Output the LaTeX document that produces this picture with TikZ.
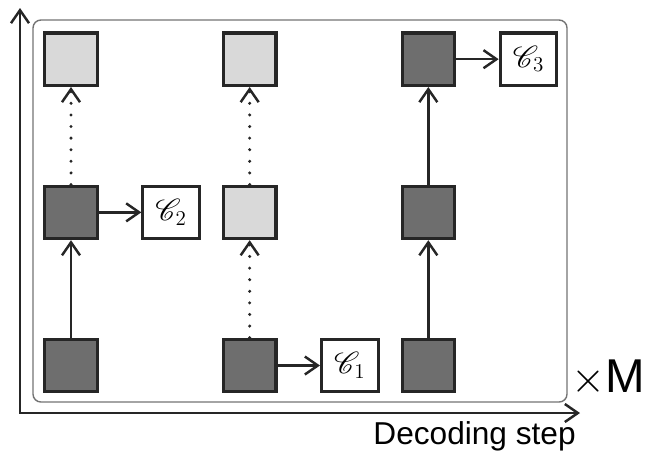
\documentclass[tikz,border=0pt]{standalone}
\usepackage{mathrsfs}
\usepackage{fontspec}
\newfontfamily\axisfont{Liberation Sans}
\usetikzlibrary{arrows.meta,positioning,calc}
\newcommand{\cword}[1]{$\mathscr{C}_{\mbox{\large #1}}$}

\begin{document}
\begin{tikzpicture}
[auto,node distance=1.95cm and 2.46cm,
>={Straight Barb[length=2.6mm,width=3.6mm,line width=1.4pt]},
edge/.style={black!85,line width=1.4pt},
dots/.style={black!85,line width=1.9pt,line cap=round,dash pattern=on 0pt off 6.6pt},
axis/.style={black!85,line width=1.3pt},
cell/.style={draw=black!85,line width=1.8pt,minimum size=1.05cm,inner sep=0pt},
dark/.style={cell,fill=black!57},
light/.style={cell,fill=black!15},
codebox/.style={cell,fill=white,minimum width=1.13cm,font=\LARGE},
frame/.style={draw=black!55,line width=.8pt,rounded corners=4.5pt}]
\useasboundingbox (0,0) rectangle (13,-9.02);
%%
\draw[frame] (0.66,-0.4) rectangle (11.34,-8.04);
\coordinate (o) at (0.4,-8.26);
\coordinate (ytop) at (0.4,-0.16);
\coordinate (xend) at (11.6,-8.26);
\draw[axis,<->] (ytop) -- (o) -- (xend);
%%
\node[dark] (b1) at (1.42,-7.31) {};
\node[dark,above=of b1] (m1) {};
\node[light,above=of m1] (t1) {};
\node[dark,right=of b1] (b2) {};
\node[light,above=of b2] (m2) {};
\node[light,above=of m2] (t2) {};
\node[dark,right=of b2] (b3) {};
\node[dark,above=of b3] (m3) {};
\node[dark,above=of m3] (t3) {};
%%
\node[codebox,right=.85cm of b2] (c1) {\cword{1}};
\node[codebox,right=.85cm of m1] (c2) {\cword{2}};
\node[codebox,right=.85cm of t3] (c3) {\cword{3}};
%%
\draw[edge,->] (b1) -- (m1);
\draw[dots,->] (m1) -- (t1);
\draw[dots,->] (b2) -- (m2);
\draw[dots,->] (m2) -- (t2);
\draw[edge,->] (b3) -- (m3);
\draw[edge,->] (m3) -- (t3);
\draw[edge,->] (m1) -- (c2);
\draw[edge,->] (b2) -- (c1);
\draw[edge,->] (t3) -- (c3);
%%
\node (step) [anchor=north east,inner sep=0pt,font=\axisfont\fontsize{18}{21}\selectfont]
at ($(xend)+(-0.08,-0.17)$) {Decoding step};
\node (times) [anchor=base,inner sep=0pt,font=\axisfont\fontsize{27}{30}\selectfont]
at (12.16,-7.84) {$\times$M};
\end{tikzpicture}
\end{document}
